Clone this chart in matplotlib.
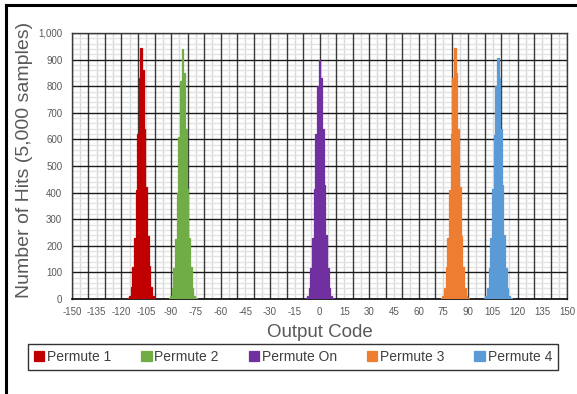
import matplotlib
matplotlib.use("Agg")
import matplotlib.pyplot as plt
from matplotlib.ticker import FuncFormatter
from matplotlib.lines import Line2D

plt.rcParams['font.family'] = ['Liberation Sans', 'DejaVu Sans']
plt.rcParams['axes.unicode_minus'] = False

# ---- data ----
series_names = ["Permute 1", "Permute 2", "Permute On", "Permute 3", "Permute 4"]
series_colors = ["#C00000", "#70AD47", "#7030A0", "#ED7D31", "#5B9BD5"]

codes_p1 = [-116, -115, -114, -113, -112, -111, -110, -109, -108, -107, -106, -105, -104, -103, -102, -101, -100]
hits_p1 = [3, 12, 45, 120, 230, 410, 620, 830, 945, 860, 640, 420, 235, 125, 45, 12, 3]

codes_p2 = [-91, -90, -89, -88, -87, -86, -85, -84, -83, -82, -81, -80, -79, -78, -77, -76, -75]
hits_p2 = [3, 10, 40, 115, 225, 400, 610, 820, 940, 850, 640, 415, 230, 120, 40, 12, 3]

codes_on = [-8, -7, -6, -5, -4, -3, -2, -1, 0, 1, 2, 3, 4, 5, 6, 7, 8]
hits_on = [3, 12, 42, 115, 230, 415, 620, 800, 900, 830, 640, 430, 240, 115, 42, 12, 3]

codes_p3 = [74, 75, 76, 77, 78, 79, 80, 81, 82, 83, 84, 85, 86, 87, 88, 89, 90]
hits_p3 = [3, 12, 42, 120, 230, 410, 620, 830, 945, 850, 640, 420, 235, 120, 42, 12, 3]

codes_p4 = [100, 101, 102, 103, 104, 105, 106, 107, 108, 109, 110, 111, 112, 113, 114, 115, 116]
hits_p4 = [3, 12, 42, 115, 230, 415, 615, 800, 905, 830, 640, 430, 240, 115, 42, 12, 3]

all_codes = [codes_p1, codes_p2, codes_on, codes_p3, codes_p4]
all_hits = [hits_p1, hits_p2, hits_on, hits_p3, hits_p4]

x_ticks = list(range(-150, 151, 15))
y_ticks = list(range(0, 1001, 100))

# ---- figure ----
W, H = 577, 394
fig = plt.figure(figsize=(W / 100, H / 100), dpi=100)
ax = fig.add_axes([72 / W, 1 - 299 / H, (567 - 72) / W, (299 - 33) / H])

# grid
for v in range(-150, 151, 5):
    if v % 10 == 0:
        continue
    ax.axvline(v, color="#d9d9d9", lw=1.0, zorder=0)
for v in range(20, 1001, 20):
    if v % 100 == 0:
        continue
    ax.axhline(v, color="#e3e3e3", lw=1.0, zorder=0)
for v in range(-150, 151, 10):
    ax.axvline(v, color="#3a3a3a", lw=1.0, zorder=1)
for v in range(100, 1001, 100):
    ax.axhline(v, color="#1a1a1a", lw=1.0, zorder=1)

for name, col, c, h in zip(series_names, series_colors, all_codes, all_hits):
    ax.bar(c, h, width=1.0, color=col, edgecolor=col, linewidth=0.9, zorder=3, label=name)

ax.set_xlim(-150, 150)
ax.set_ylim(0, 1000)
ax.set_xticks(x_ticks)
ax.set_yticks(y_ticks)
ax.yaxis.set_major_formatter(FuncFormatter(lambda v, p: f"{int(v):,}"))
ax.tick_params(axis="both", length=0, labelsize=7, colors="#595959", pad=6)
ax.tick_params(axis="y", pad=7)
for s in ["top", "right", "left"]:
    ax.spines[s].set_color("#3a3a3a")
    ax.spines[s].set_linewidth(1.0)
ax.spines["bottom"].set_color("#000000")
ax.spines["bottom"].set_linewidth(1.2)

ax.set_xlabel("Output Code", fontsize=13.5, color="#595959", labelpad=5)
ax.set_ylabel("Number of Hits (5,000 samples)", fontsize=14, color="#595959")
ax.yaxis.set_label_coords((33 - 72) / (567 - 72), (299 - 160) / (299 - 33))

leg = fig.legend(loc="center", bbox_to_anchor=(293 / W, 1 - 357 / H), ncol=5,
                 frameon=True, fontsize=10, handlelength=0.75, handleheight=0.75,
                 handletextpad=0.2, columnspacing=2.15, borderpad=0.4,
                 fancybox=False, edgecolor="#000000")
leg.get_frame().set_linewidth(1.0)
for t in leg.get_texts():
    t.set_color("#404040")

# outer frame (top and left edges visible)
fig.add_artist(Line2D([6 / W, 6 / W], [1 - 5 / H, 0], transform=fig.transFigure, color="black", lw=2.2))
fig.add_artist(Line2D([6 / W, 1.0], [1 - 5 / H, 1 - 5 / H], transform=fig.transFigure, color="black", lw=2.2))

fig.savefig("out.png", dpi=100)
